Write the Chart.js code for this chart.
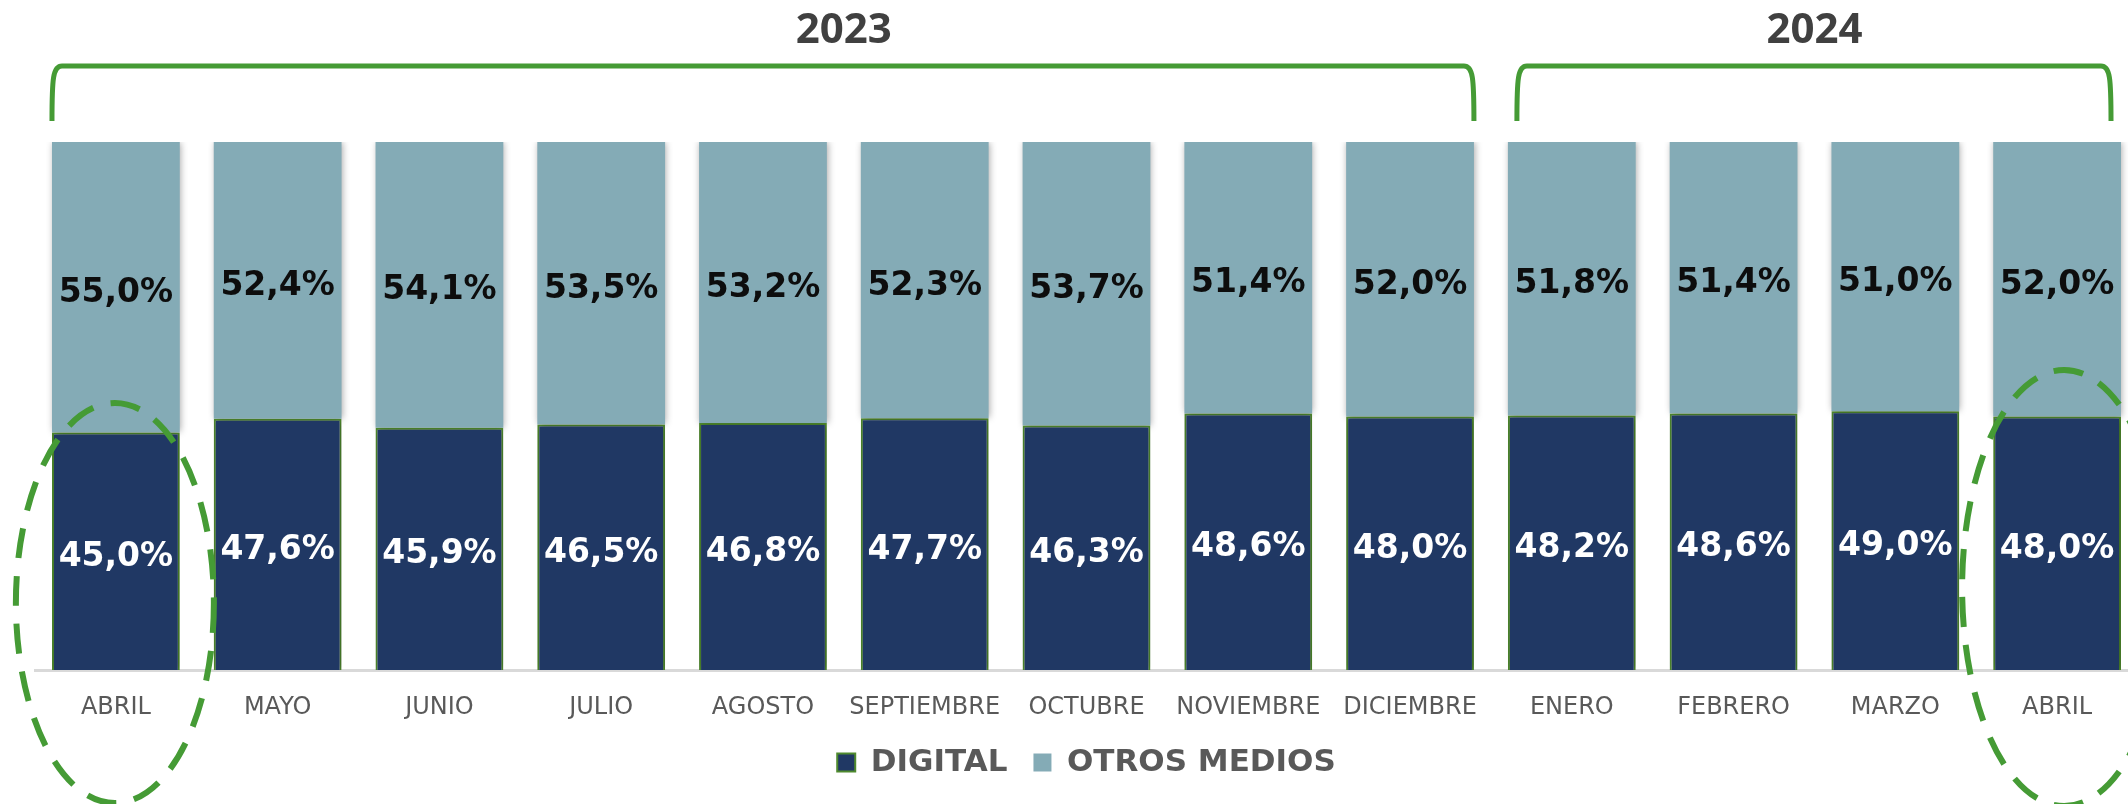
<!DOCTYPE html>
<html>
<head>
<meta charset="utf-8">
<script src="https://cdn.jsdelivr.net/npm/chart.js@4/dist/chart.umd.min.js"></script>
<style>
  html, body { margin: 0; padding: 0; background: #fff; overflow: hidden; }
  #wrap { width: 2150px; height: 804px; }
</style>
</head>
<body>
<div id="wrap"><canvas id="medios" width="2150" height="804"></canvas></div>
<script>
const meses = ['ABRIL', 'MAYO', 'JUNIO', 'JULIO', 'AGOSTO', 'SEPTIEMBRE', 'OCTUBRE',
  'NOVIEMBRE', 'DICIEMBRE', 'ENERO', 'FEBRERO', 'MARZO', 'ABRIL'];
const digital = [45.0, 47.6, 45.9, 46.5, 46.8, 47.7, 46.3, 48.6, 48.0, 48.2, 48.6, 49.0, 48.0];
const otros = [55.0, 52.4, 54.1, 53.5, 53.2, 52.3, 53.7, 51.4, 52.0, 51.8, 51.4, 51.0, 52.0];
const anios = [
  {label: '2023', from: 0, to: 8},
  {label: '2024', from: 9, to: 12}
];

const VERDE = '#459b35';

// sombra suave en las barras
const sombra = {
  id: 'sombra',
  beforeDatasetDraw(chart) {
    const c = chart.ctx;
    c.save();
    c.shadowColor = 'rgba(0,0,0,0.35)';
    c.shadowBlur = 7;
    c.shadowOffsetX = 1;
  },
  afterDatasetDraw(chart) {
    chart.ctx.restore();
  }
};

// porcentajes dentro de cada tramo
const etiquetas = {
  id: 'etiquetas',
  afterDatasetsDraw(chart) {
    const c = chart.ctx;
    c.save();
    c.font = 'bold 33px "DejaVu Sans", Verdana, sans-serif';
    c.textAlign = 'center';
    c.textBaseline = 'middle';
    chart.data.datasets.forEach((ds, i) => {
      const meta = chart.getDatasetMeta(i);
      c.fillStyle = i === 0 ? '#ffffff' : '#0d0d0d';
      meta.data.forEach((bar, j) => {
        const txt = ds.data[j].toFixed(1).replace('.', ',') + '%';
        c.fillText(txt, bar.x, (bar.y + bar.base) / 2 + 6);
      });
    });
    c.restore();
  }
};

// llaves de año y elipses punteadas
const llaves = {
  id: 'llaves',
  afterDraw(chart) {
    const c = chart.ctx;
    const x = chart.scales.x;
    const meta = chart.getDatasetMeta(0);
    const half = meta.data[0].width / 2;
    const top = 66, bottom = 121;
    c.save();
    anios.forEach((a, k) => {
      let x0 = x.getPixelForValue(a.from) - half;
      let x1 = x.getPixelForValue(a.to) + half;
      if (k === 1) { x0 += 9; x1 -= 10; }
      c.strokeStyle = VERDE;
      c.lineWidth = 5;
      c.beginPath();
      c.moveTo(x0, bottom);
      c.bezierCurveTo(x0, top + 12, x0 + 1, top, x0 + 10, top);
      c.lineTo(x1 - 10, top);
      c.bezierCurveTo(x1 - 1, top, x1, top + 12, x1, bottom);
      c.stroke();
      const mid = Math.floor((a.from + a.to) / 2);
      const tx = (x.getPixelForValue(mid) + x.getPixelForValue(mid + 1)) / 2;
      c.fillStyle = '#404040';
      c.font = 'bold 42px "Open Sans", sans-serif';
      c.textAlign = 'center';
      c.textBaseline = 'middle';
      c.fillText(a.label, tx, 31);
    });
    c.strokeStyle = VERDE;
    c.lineWidth = 6;
    c.setLineDash([30, 18]);
    c.beginPath();
    c.ellipse(x.getPixelForValue(0) - 1, 603, 99, 200, 0, 0, Math.PI * 2);
    c.stroke();
    c.beginPath();
    c.ellipse(x.getPixelForValue(12) + 7, 588, 102, 218, 0, 0, Math.PI * 2);
    c.stroke();
    c.restore();
  }
};

new Chart(document.getElementById('medios'), {
  type: 'bar',
  data: {
    labels: meses,
    datasets: [
      {
        label: 'DIGITAL',
        data: digital,
        backgroundColor: '#203864',
        borderColor: '#4f8a2e',
        borderWidth: 2,
        barPercentage: 0.79,
        categoryPercentage: 1
      },
      {
        label: 'OTROS MEDIOS',
        data: otros,
        backgroundColor: '#84abb6',
        borderWidth: 0,
        barPercentage: 0.79,
        categoryPercentage: 1
      }
    ]
  },
  options: {
    responsive: false,
    animation: false,
    layout: {
      padding: {left: 35, right: 12, top: 142, bottom: 16}
    },
    scales: {
      x: {
        stacked: true,
        grid: {display: false},
        border: {display: true, color: '#d9d9d9', width: 3},
        ticks: {
          color: '#595959',
          font: {family: '"DejaVu Sans", Verdana, sans-serif', size: 24},
          padding: 15,
          maxRotation: 0,
          autoSkip: false
        },
        afterFit(axis) {
          axis.height = 51;
        }
      },
      y: {
        stacked: true,
        display: false,
        min: 0,
        max: 100
      }
    },
    plugins: {
      legend: {
        position: 'bottom',
        labels: {
          boxWidth: 18,
          boxHeight: 18,
          padding: 26,
          color: '#595959',
          font: {family: '"DejaVu Sans", Verdana, sans-serif', size: 31, weight: 'bold'}
        }
      },
      tooltip: {enabled: false}
    }
  },
  plugins: [sombra, etiquetas, llaves]
});
</script>
</body>
</html>
